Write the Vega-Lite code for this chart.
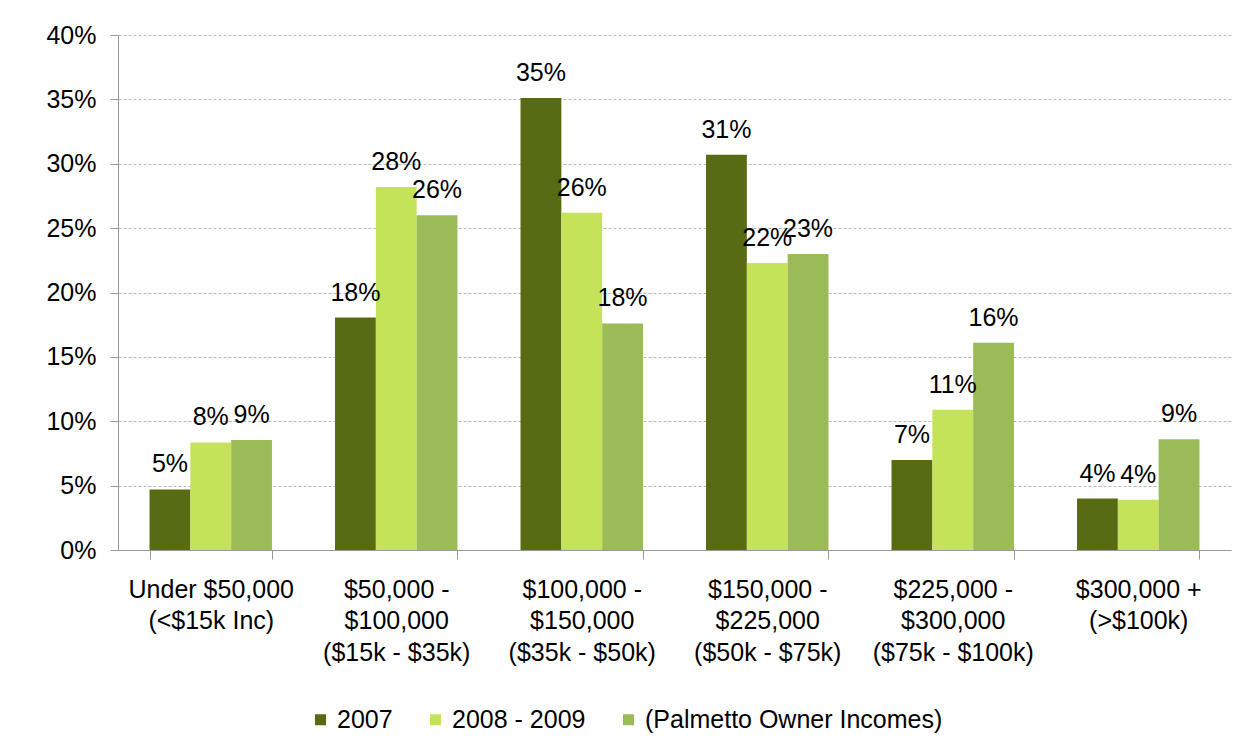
{
  "$schema": "https://vega.github.io/schema/vega-lite/v6.json",
  "width": 1113,
  "height": 515,
  "autosize": {"type": "none"},
  "padding": {"left": 118, "top": 35, "right": 26, "bottom": 205},
  "background": "white",
  "data": {
    "values": [
      {"category": "Under $50,000|(<$15k Inc)", "series": "2007", "value": 0.047},
      {"category": "Under $50,000|(<$15k Inc)", "series": "2008 - 2009", "value": 0.0835},
      {"category": "Under $50,000|(<$15k Inc)", "series": "(Palmetto Owner Incomes)", "value": 0.0855},
      {"category": "$50,000 -|$100,000|($15k - $35k)", "series": "2007", "value": 0.1805},
      {"category": "$50,000 -|$100,000|($15k - $35k)", "series": "2008 - 2009", "value": 0.282},
      {"category": "$50,000 -|$100,000|($15k - $35k)", "series": "(Palmetto Owner Incomes)", "value": 0.26},
      {"category": "$100,000 -|$150,000|($35k - $50k)", "series": "2007", "value": 0.351},
      {"category": "$100,000 -|$150,000|($35k - $50k)", "series": "2008 - 2009", "value": 0.262},
      {"category": "$100,000 -|$150,000|($35k - $50k)", "series": "(Palmetto Owner Incomes)", "value": 0.176},
      {"category": "$150,000 -|$225,000|($50k - $75k)", "series": "2007", "value": 0.307},
      {"category": "$150,000 -|$225,000|($50k - $75k)", "series": "2008 - 2009", "value": 0.223},
      {"category": "$150,000 -|$225,000|($50k - $75k)", "series": "(Palmetto Owner Incomes)", "value": 0.23},
      {"category": "$225,000 -|$300,000|($75k - $100k)", "series": "2007", "value": 0.07},
      {"category": "$225,000 -|$300,000|($75k - $100k)", "series": "2008 - 2009", "value": 0.109},
      {"category": "$225,000 -|$300,000|($75k - $100k)", "series": "(Palmetto Owner Incomes)", "value": 0.161},
      {"category": "$300,000 +|(>$100k)", "series": "2007", "value": 0.04},
      {"category": "$300,000 +|(>$100k)", "series": "2008 - 2009", "value": 0.039},
      {"category": "$300,000 +|(>$100k)", "series": "(Palmetto Owner Incomes)", "value": 0.086}
    ]
  },
  "encoding": {
    "x": {
      "field": "category",
      "type": "nominal",
      "sort": null,
      "scale": {"paddingInner": 0.34, "paddingOuter": 0.17},
      "axis": {
        "title": null,
        "labelAngle": 0,
        "labelExpr": "isValid(datum.value) ? split(datum.value, '|') : ''",
        "labelFont": "Liberation Sans",
        "labelFontSize": 25,
        "labelLineHeight": 31.5,
        "labelColor": "#000000",
        "labelPadding": 18,
        "labelLimit": 0,
        "domainColor": "#999999",
        "tickColor": "#999999",
        "tickSize": 9,
        "tickBand": "extent",
        "grid": false
      }
    },
    "xOffset": {"field": "series", "sort": ["2007", "2008 - 2009", "(Palmetto Owner Incomes)"]},
    "y": {
      "field": "value",
      "type": "quantitative",
      "scale": {"domain": [0, 0.4]},
      "axis": {
        "title": null,
        "format": ".0%",
        "values": [0, 0.05, 0.1, 0.15, 0.2, 0.25, 0.3, 0.35, 0.4],
        "labelFont": "Liberation Sans",
        "labelFontSize": 25,
        "labelColor": "#000000",
        "labelPadding": 14,
        "domainColor": "#999999",
        "tickColor": "#999999",
        "tickSize": 8,
        "gridColor": "#b8b8b8",
        "gridDash": [3, 2],
        "gridWidth": 1
      }
    }
  },
  "layer": [
    {
      "mark": {"type": "bar"},
      "encoding": {
        "color": {
          "field": "series",
          "type": "nominal",
          "sort": ["2007", "2008 - 2009", "(Palmetto Owner Incomes)"],
          "scale": {
            "domain": ["2007", "2008 - 2009", "(Palmetto Owner Incomes)"],
            "range": ["#566B12", "#C4E359", "#9BBB59"]
          },
          "legend": {
            "title": null,
            "orient": "none",
            "direction": "horizontal",
            "legendX": 190,
            "legendY": 672,
            "symbolType": "square",
            "symbolSize": 121,
            "symbolStrokeWidth": 0,
            "labelFont": "Liberation Sans",
            "labelFontSize": 25,
            "labelColor": "#000000",
            "labelOffset": 4,
            "columnPadding": 30,
            "labelLimit": 0
          }
        }
      }
    },
    {
      "mark": {"type": "text", "baseline": "alphabetic", "dy": -17, "font": "Liberation Sans", "fontSize": 25, "color": "#000000"},
      "encoding": {
        "text": {"field": "value", "type": "quantitative", "format": ".0%"}
      }
    }
  ],
  "config": {"view": {"stroke": null}}
}
